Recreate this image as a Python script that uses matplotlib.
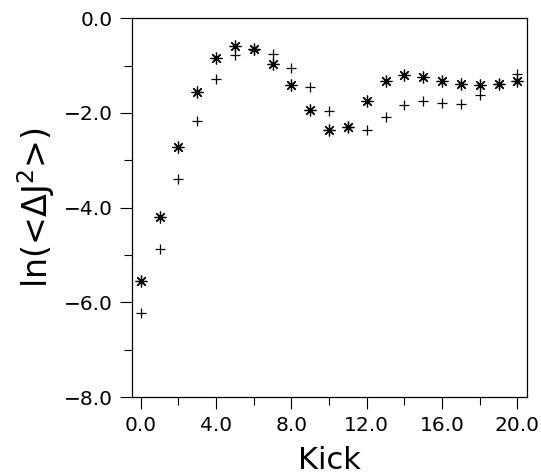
import matplotlib
matplotlib.use("Agg")
import matplotlib.pyplot as plt

# kick number
kick = [0, 1, 2, 3, 4, 5, 6, 7, 8, 9, 10, 11, 12, 13, 14, 15, 16, 17, 18, 19, 20]

# asterisk series
ln_star = [-5.54, -4.19, -2.71, -1.56, -0.83, -0.58, -0.65, -0.97, -1.41, -1.93, -2.36,
           -2.30, -1.74, -1.33, -1.20, -1.23, -1.32, -1.39, -1.41, -1.39, -1.32]

# plus series
ln_plus = [-6.22, -4.87, -3.39, -2.18, -1.28, -0.77, -0.66, -0.75, -1.04, -1.46, -1.96,
           -2.30, -2.37, -2.08, -1.84, -1.74, -1.78, -1.81, -1.63, -1.39, -1.18]

xticks = [0, 4, 8, 12, 16, 20]
xlabels = ["0.0", "4.0", "8.0", "12.0", "16.0", "20.0"]
yticks = [0, -2, -4, -6, -8]
ylabels = ["0.0", "\u22122.0", "\u22124.0", "\u22126.0", "\u22128.0"]

plt.rcParams["font.family"] = ["DejaVu Sans"]
plt.rcParams["mathtext.default"] = "regular"

fig = plt.figure(figsize=(5.41, 4.74), dpi=100)
ax = fig.add_axes([0.2434, 0.1624, 0.7313, 0.799])

# plus markers
ax.plot(kick, ln_plus, linestyle="none", marker="+", ms=7, mew=0.9, color="black")
# asterisk markers with a dark centre
ax.plot(kick, ln_star, linestyle="none", marker=(8, 2, 0), ms=8.5, mew=0.9, color="black")
ax.plot(kick, ln_star, linestyle="none", marker="s", ms=3.4, mew=0, color="black")

ax.set_xlim(-0.48, 20.53)
ax.set_ylim(-8, 0)

ax.set_xticks(xticks)
ax.set_xticklabels(xlabels)
ax.set_xticks([2, 6, 10, 14, 18], minor=True)
ax.set_yticks(yticks)
ax.set_yticklabels(ylabels)
ax.set_yticks([-1, -3, -5, -7], minor=True)

ax.tick_params(which="major", direction="out", length=8.6, width=0.8, labelsize=14.5, pad=5)
ax.tick_params(which="minor", direction="out", length=5.8, width=0.8)
for s in ax.spines.values():
    s.set_linewidth(0.9)

ax.set_xlabel("Kick", fontsize=22, labelpad=8)
ax.set_ylabel("ln(<\u0394J$^2$>)", fontsize=24, labelpad=5)

fig.savefig("out.png", dpi=100)
